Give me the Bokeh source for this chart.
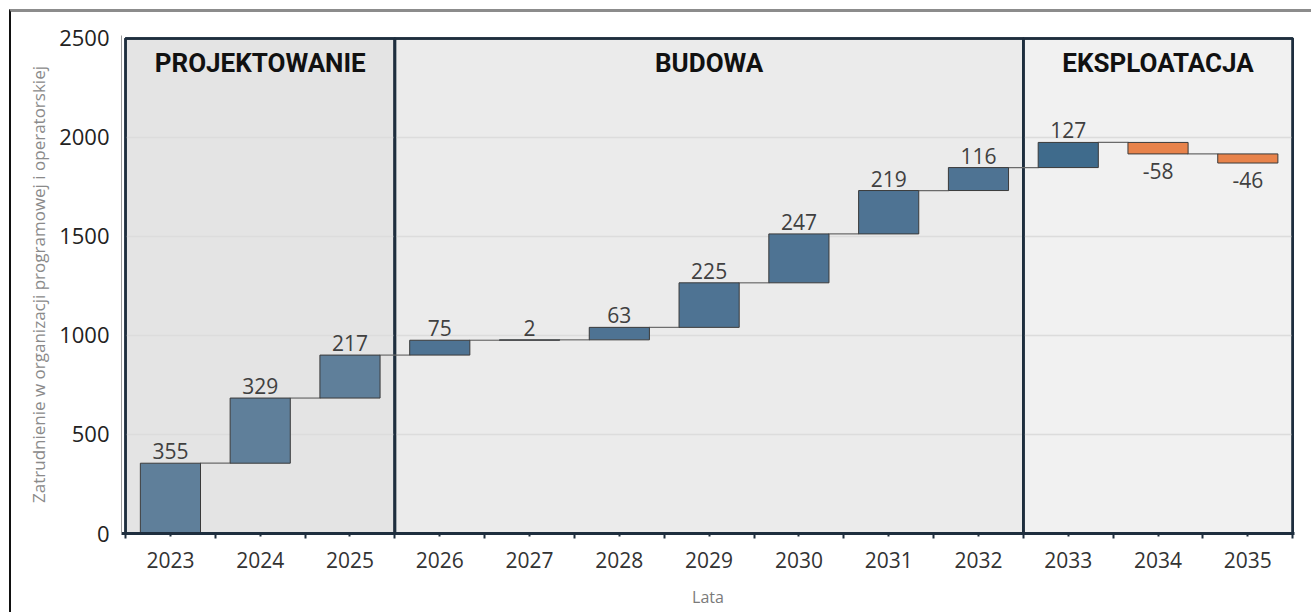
import numpy as np
from bokeh.plotting import figure
from bokeh.models import FixedTicker, ColumnDataSource, Range1d
from bokeh.core.properties import value
from bokeh.embed import file_html
from bokeh.resources import INLINE

# ---- data ----
years = ["2023", "2024", "2025", "2026", "2027", "2028", "2029",
         "2030", "2031", "2032", "2033", "2034", "2035"]
changes = [355, 329, 217, 75, 2, 63, 225, 247, 219, 116, 127, -58, -46]
phases = ["PROJEKTOWANIE", "BUDOWA", "EKSPLOATACJA"]
phase_first = ["2023", "2026", "2033"]
phase_last = ["2025", "2032", "2035"]
y_ticks = [0, 500, 1000, 1500, 2000, 2500]

# ---- styles ----
phase_fill = ["#e4e4e4", "#ebebeb", "#f1f1f1"]
phase_bar = ["#5f7f9a", "#4e7393", "#3f6b8c"]
neg_color = "#e8834b"
border_col = "#1e2e3e"

idx = {y: i for i, y in enumerate(years)}
x = np.arange(len(years))
end = np.cumsum(changes)
start = end - np.array(changes)
bottom = np.minimum(start, end)
top = np.maximum(start, end)

phase_of = []
for i in range(len(years)):
    for k in range(len(phases)):
        if idx[phase_first[k]] <= i <= idx[phase_last[k]]:
            phase_of.append(k)
colors = [neg_color if c < 0 else phase_bar[phase_of[i]] for i, c in enumerate(changes)]

p = figure(width=1302, height=603, output_backend="svg", toolbar_location=None,
           x_range=Range1d(-0.545, 12.52), y_range=Range1d(0, 2515),
           min_border_left=110, min_border_right=19, min_border_top=23, min_border_bottom=82)
p.styles = {"border-top": "3px solid #8c8c8c", "border-left": "2px solid #111111",
            "margin-left": "9px", "margin-top": "9px"}
p.outline_line_color = None
p.background_fill_color = "white"
p.xgrid.grid_line_color = None
p.ygrid.grid_line_color = None

# phase regions
ph_left = [idx[s] - 0.5 for s in phase_first]
ph_right = [idx[s] + 0.5 for s in phase_last]
p.quad(left=ph_left, right=ph_right, bottom=0, top=2500, fill_color=phase_fill,
       line_color=border_col, line_width=2.5, level="underlay")

# gridlines (horizontal, drawn inside regions)
grid_y = [t for t in y_ticks if 0 < t < 2500]
p.segment(x0=[-0.5] * len(grid_y), x1=[12.5] * len(grid_y), y0=grid_y, y1=grid_y,
          line_color="#dcdcdc", line_width=1.5, level="underlay")
# redraw region borders above grid
p.quad(left=ph_left, right=ph_right, bottom=0, top=2500, fill_color=None,
       line_color=border_col, line_width=2.5, level="underlay")

# connectors
p.segment(x0=x[:-1] + 0.33, x1=x[1:] - 0.33, y0=end[:-1], y1=end[:-1],
          line_color="#6a6a6a", line_width=1.2)

src = ColumnDataSource(dict(x=x, bottom=bottom, top=top, color=colors,
                            label=[str(c) for c in changes], end=end))
p.vbar(x="x", width=0.67, bottom="bottom", top="top", fill_color="color",
       line_color="#3a3a3a", line_width=1, source=src)

pos = [i for i, c in enumerate(changes) if c >= 0]
neg = [i for i, c in enumerate(changes) if c < 0]
p.text(x=[x[i] for i in pos], y=[top[i] for i in pos], text=[str(changes[i]) for i in pos],
       text_align="center", text_baseline="bottom", y_offset=-4,
       text_font=value("Open Sans"), text_font_size="21px", text_color="#404040")
p.text(x=[x[i] for i in neg], y=[bottom[i] for i in neg], text=[str(changes[i]) for i in neg],
       text_align="center", text_baseline="top", y_offset=9,
       text_font=value("Open Sans"), text_font_size="21px", text_color="#404040")

# phase titles
p.text(x=[(a + b) / 2 for a, b in zip(ph_left, ph_right)], y=[2500] * 3, text=phases,
       text_align="center", text_baseline="middle", y_offset=25,
       text_font=value("Roboto"), text_font_style="bold", text_font_size="26px",
       text_color="#111111")

# axes
xa = p.xaxis[0]
xa.ticker = FixedTicker(ticks=list(x), minor_ticks=[i - 0.5 for i in range(len(years) + 1)])
xa.major_label_overrides = {int(i): y for i, y in zip(x, years)}
xa.axis_line_color = border_col
xa.axis_line_width = 3
xa.major_tick_line_color = border_col
xa.major_tick_line_width = 2
xa.major_tick_in = 0
xa.major_tick_out = 3
xa.minor_tick_line_color = border_col
xa.minor_tick_line_width = 2
xa.minor_tick_in = 0
xa.minor_tick_out = 5
xa.major_label_text_font = "Open Sans"
xa.major_label_text_font_size = "21px"
xa.major_label_text_color = "#333333"
xa.major_label_standoff = 13
xa.axis_label = "Lata"
xa.axis_label_text_font = "Open Sans"
xa.axis_label_text_font_style = "normal"
xa.axis_label_text_font_size = "16px"
xa.axis_label_text_color = "#7a7a7a"
xa.axis_label_standoff = 15

ya = p.yaxis[0]
ya.ticker = FixedTicker(ticks=y_ticks)
ya.axis_line_color = "#9a9a9a"
ya.axis_line_width = 1
ya.major_tick_line_color = None
ya.minor_tick_line_color = None
ya.major_label_text_font = "Open Sans"
ya.major_label_text_font_size = "22px"
ya.major_label_text_color = "#222222"
ya.major_label_standoff = 6
ya.axis_label = "Zatrudnienie w organizacji programowej i operatorskiej"
ya.axis_label_text_font = "Open Sans"
ya.axis_label_text_font_style = "normal"
ya.axis_label_text_font_size = "17px"
ya.axis_label_text_color = "#8a8a8a"
ya.axis_label_standoff = 6

open("out.html", "w").write(file_html(p, INLINE))
